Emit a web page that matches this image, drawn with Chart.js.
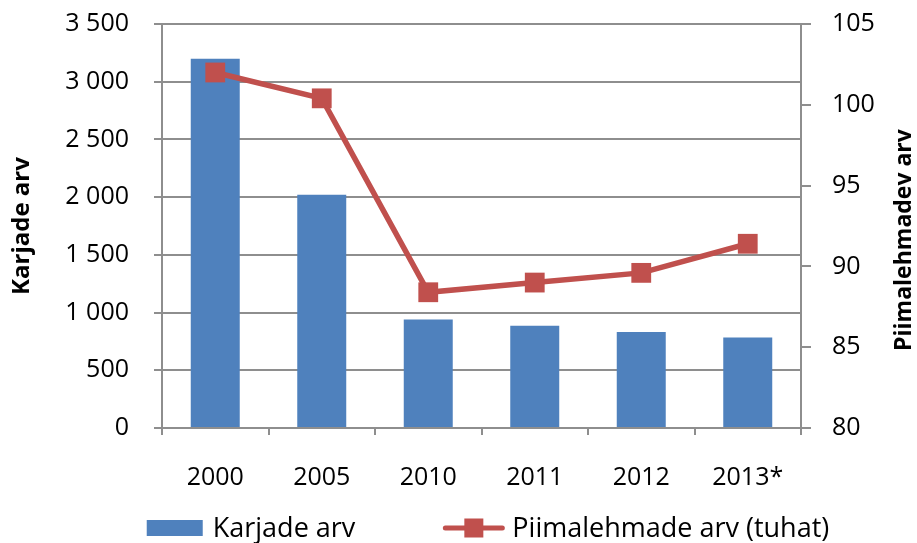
<!DOCTYPE html>
<html>
<head>
<meta charset="utf-8">
<script src="https://cdn.jsdelivr.net/npm/chart.js@4.4.1/dist/chart.umd.min.js"></script>
<style>
  html, body { margin: 0; padding: 0; background: #fff; }
  #wrap { width: 917px; height: 543px; position: relative; }
</style>
</head>
<body>
<div id="wrap"><canvas id="chart1"></canvas></div>
<script>
var categories = ['2000', '2005', '2010', '2011', '2012', '2013*'];
var herdCounts = [3200, 2020, 940, 885, 832, 783];
var dairyCows = [102.0, 100.4, 88.4, 89.0, 89.6, 91.4];
var leftTicks = [0, 500, 1000, 1500, 2000, 2500, 3000, 3500];
var rightTicks = [80, 85, 90, 95, 100, 105];

var BLUE = '#4F81BD';
var RED = '#C0504D';
var GRID = '#8e8e8e';
var FONT = "'Open Sans', sans-serif";

Chart.defaults.font.family = FONT;
Chart.defaults.color = '#000';

function spaced(v) {
    return String(v).replace(/\B(?=(\d{3})+(?!\d))/g, ' ');
}

// right axis title reads bottom-to-top, and the legend is drawn by hand
var extras = {
    id: 'extras',
    afterDraw: function(chart) {
        var ctx = chart.ctx;
        var area = chart.chartArea;
        ctx.save();
        ctx.fillStyle = '#000';
        ctx.font = 'bold 23px ' + FONT;
        ctx.textAlign = 'center';
        ctx.textBaseline = 'middle';
        ctx.translate(904, (area.top + area.bottom) / 2 + 14);
        ctx.rotate(-Math.PI / 2);
        ctx.fillText('Piimalehmadev arv', 0, 0);
        ctx.restore();

        var ds = chart.data.datasets;
        var y = 528;
        ctx.save();
        ctx.font = '27px ' + FONT;
        ctx.textBaseline = 'middle';
        ctx.fillStyle = '#000';
        var w1 = ctx.measureText(ds[1].label).width;
        var w2 = ctx.measureText(ds[0].label).width;
        var total = 56 + 10 + w1 + 88 + 61 + 8 + w2;
        var x = 488 - total / 2;
        ctx.fillStyle = ds[1].backgroundColor;
        ctx.fillRect(x, y - 8, 56, 16);
        ctx.fillStyle = '#000';
        ctx.fillText(ds[1].label, x + 66, y + 1);
        x += 66 + w1 + 88;
        ctx.strokeStyle = ds[0].borderColor;
        ctx.lineWidth = 5;
        ctx.lineCap = 'round';
        ctx.beginPath();
        ctx.moveTo(x + 2, y);
        ctx.lineTo(x + 59, y);
        ctx.stroke();
        ctx.fillStyle = ds[0].pointBackgroundColor;
        ctx.fillRect(x + 21, y - 9.5, 19, 19);
        ctx.fillStyle = '#000';
        ctx.fillText(ds[0].label, x + 69, y + 1);
        ctx.restore();
    }
};

window.onload = function() {
    var ctx1 = document.getElementById('chart1').getContext('2d');

    new Chart(ctx1, {
        type: 'bar',
        data: {
            labels: categories,
            datasets: [{
                type: 'line',
                label: 'Piimalehmade arv (tuhat)',
                data: dairyCows,
                yAxisID: 'y1',
                borderColor: RED,
                backgroundColor: RED,
                borderWidth: 5.5,
                pointStyle: 'rect',
                pointRadius: 14,
                pointHoverRadius: 14,
                pointBackgroundColor: RED,
                pointBorderWidth: 0,
                tension: 0,
                order: 0
            }, {
                label: 'Karjade arv',
                data: herdCounts,
                yAxisID: 'y',
                backgroundColor: BLUE,
                categoryPercentage: 1,
                barPercentage: 0.46,
                order: 1
            }]
        },
        options: {
            responsive: true,
            maintainAspectRatio: false,
            animation: false,
            layout: { padding: { top: 24, right: 0, bottom: 0, left: 0 } },
            plugins: {
                legend: { display: false },
                tooltip: { enabled: false }
            },
            scales: {
                x: {
                    offset: true,
                    grid: { offset: true, drawOnChartArea: false, color: GRID, lineWidth: 2, tickLength: 7 },
                    border: { color: GRID, width: 2 },
                    ticks: { font: { size: 25 }, padding: 28, maxRotation: 0 },
                    afterFit: function(s) { s.height = 115; }
                },
                y: {
                    position: 'left',
                    min: 0,
                    max: 3500,
                    afterBuildTicks: function(s) { s.ticks = leftTicks.map(function(v) { return { value: v }; }); },
                    grid: { color: GRID, lineWidth: 2, tickLength: 8 },
                    border: { color: GRID, width: 2 },
                    ticks: { font: { size: 25 }, padding: 25, callback: function(v) { return spaced(v); } },
                    title: { display: true, text: 'Karjade arv', font: { size: 24, weight: 'bold' }, padding: { top: 8, bottom: 0 } },
                    afterFit: function(s) { s.width = 162; s.paddingTop = 0; s.paddingBottom = 0; }
                },
                y1: {
                    position: 'right',
                    min: 80,
                    max: 105,
                    afterBuildTicks: function(s) { s.ticks = rightTicks.map(function(v) { return { value: v }; }); },
                    grid: { drawOnChartArea: false, color: GRID, lineWidth: 2, tickLength: 10 },
                    border: { color: GRID, width: 2 },
                    ticks: { font: { size: 25 }, padding: 21 },
                    afterFit: function(s) { s.width = 116; s.paddingTop = 0; s.paddingBottom = 0; }
                }
            }
        },
        plugins: [extras]
    });
};
</script>
</body>
</html>
